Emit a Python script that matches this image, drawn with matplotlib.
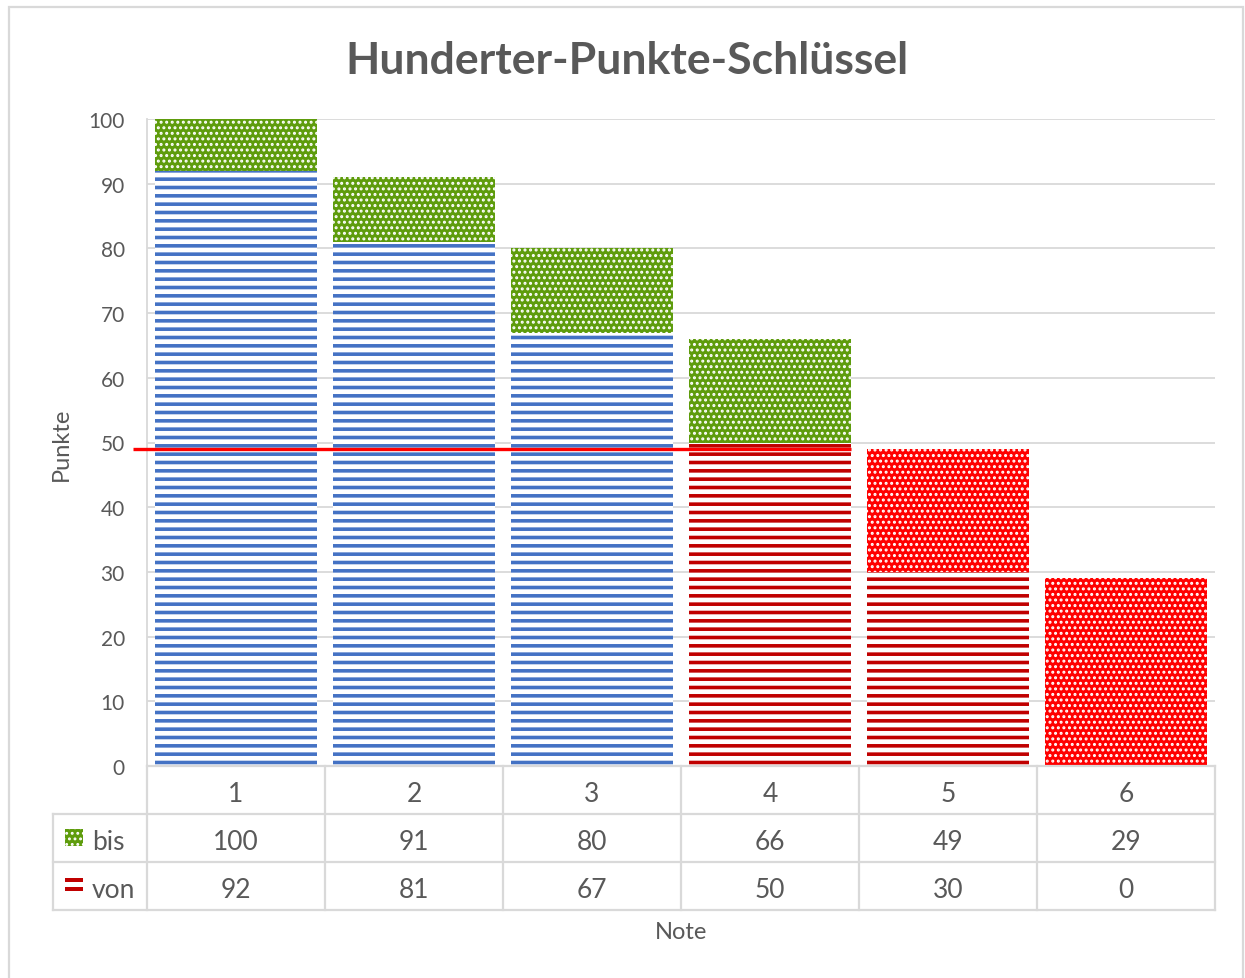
import matplotlib
matplotlib.use('Agg')
import matplotlib.pyplot as plt
import matplotlib.transforms as mtransforms
from matplotlib.patches import Rectangle
import numpy as np

# ---- data ----
notes = ['1', '2', '3', '4', '5', '6']
bis = [100, 91, 80, 66, 49, 29]
von = [92, 81, 67, 50, 30, 0]
threshold = 49
yticks = list(range(0, 101, 10))
title = 'Hunderter-Punkte-Schlüssel'
ylabel = 'Punkte'
xlabel = 'Note'
row_labels = ['bis', 'von']

GREEN = '#5E9C0C'
BRED = '#FF0000'
BLUE = '#4472C4'
DRED = '#C00000'
GRID = '#D9D9D9'
TXT = '#595959'
bis_colors = [GREEN, GREEN, GREEN, GREEN, BRED, BRED]
von_colors = [BLUE, BLUE, BLUE, DRED, DRED, DRED]

plt.rcParams['font.family'] = ['Lato', 'DejaVu Sans']

W, H = 1245, 979
fig = plt.figure(figsize=(W / 100, H / 100), dpi=100)
ax = fig.add_axes([147 / W, 1 - 767 / H, (1215 - 147) / W, (767 - 120) / H])

x = np.arange(1, len(notes) + 1)
width = 162 / 178

with plt.rc_context({'hatch.linewidth': 1.4}):
    bb = ax.bar(x, bis, width, color=bis_colors, edgecolor='white', hatch='...',
                linewidth=0, zorder=2)
    for p in bb:
        if hasattr(p, 'set_hatch_linewidth'):
            p.set_hatch_linewidth(1.4)
with plt.rc_context({'hatch.linewidth': 2.6}):
    vb = ax.bar(x, von, width, color='white', edgecolor=von_colors, hatch='--',
                linewidth=0, zorder=3)
    for p in vb:
        if hasattr(p, 'set_hatch_linewidth'):
            p.set_hatch_linewidth(2.6)

# threshold line
ax.plot([0.5 - 14 / 178, 4 + width / 2], [threshold, threshold], color=BRED,
        lw=2.4, zorder=5, clip_on=False, solid_capstyle='butt')

ax.set_xlim(0.5, 6.5)
ax.set_ylim(0, 100)
ax.set_yticks(yticks)
ax.set_yticklabels([str(t) for t in yticks])
ax.set_xticks([])
ax.tick_params(axis='y', length=0, pad=16, labelsize=15, labelcolor=TXT)
ax.yaxis.grid(True, color=GRID, lw=1.3)
ax.set_axisbelow(True)
for s in ['top', 'right', 'bottom']:
    ax.spines[s].set_visible(False)
ax.spines['left'].set_color(GRID)
ax.spines['left'].set_linewidth(1.3)

ax.set_ylabel(ylabel, fontsize=17, color=TXT)
ax.yaxis.set_label_coords(-0.0700, 0.498)

# ---- data table ----
trans = mtransforms.blended_transform_factory(ax.transData, ax.transAxes)
ah = 767 - 120
r = [0, -48 / ah, -96 / ah, -144 / ah]
xl = 0.5 - 94 / 178
tl = dict(color=GRID, lw=1.6, transform=trans, clip_on=False, zorder=4)
ax.plot([0.5, 6.5], [r[0], r[0]], **tl)
for yy in r[1:]:
    ax.plot([xl, 6.5], [yy, yy], **tl)
for xx in np.arange(0.5, 7.0, 1.0):
    ax.plot([xx, xx], [r[0], r[3]], **tl)
ax.plot([xl, xl], [r[1], r[3]], **tl)

dy = -3 / ah
tk = dict(transform=trans, ha='center', va='center', fontsize=19, color=TXT, clip_on=False)
for xi, n, b, v in zip(x, notes, bis, von):
    ax.text(xi, (r[0] + r[1]) / 2 + dy, n, **tk)
    ax.text(xi, (r[1] + r[2]) / 2 + dy, str(b), **tk)
    ax.text(xi, (r[2] + r[3]) / 2 + dy, str(v), **tk)

lx = 0.5 - (147 - 92) / 178
for i, lab in enumerate(row_labels):
    ax.text(lx, (r[i + 1] + r[i + 2]) / 2 + dy, lab, transform=trans, ha='left', va='center',
            fontsize=19, color=TXT, clip_on=False)

kx0 = 0.5 - 82 / 178
kw = 18 / 178
with plt.rc_context({'hatch.linewidth': 1.3}):
    k1 = Rectangle((kx0, (767 - 847) / ah), kw, 17 / ah, transform=trans,
                   facecolor=GREEN, edgecolor='white', hatch='...', lw=0, clip_on=False)
    ax.add_patch(k1)
for y0 in (879, 888):
    ax.add_patch(Rectangle((kx0, (767 - y0 - 4) / ah), kw, 4 / ah, transform=trans,
                           facecolor=DRED, lw=0, clip_on=False))

fig.text(681 / W, 1 - 933 / H, xlabel, ha='center', va='center', fontsize=17, color=TXT)
fig.text(627 / W, 1 - 61 / H, title, ha='center', va='center', fontsize=32,
         fontweight='bold', color=TXT)

fig.patches.append(Rectangle((9 / W, 1 - 985 / H), (1243 - 9) / W, (985 - 8) / H,
                             transform=fig.transFigure, fill=False, edgecolor=GRID, lw=1.6))

fig.savefig('out.png', dpi=100, facecolor='white')
